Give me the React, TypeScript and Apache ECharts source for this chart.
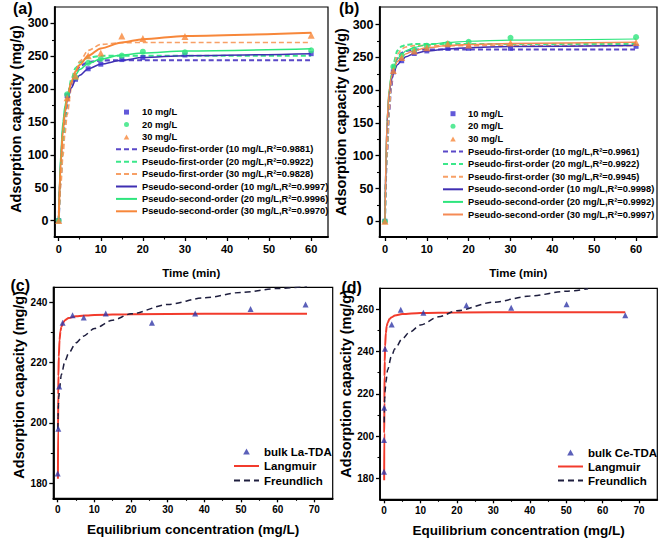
import React, { useEffect, useRef } from 'react';
import * as echarts from 'echarts';

// ---------- data ----------
// (a) kinetics, bulk La-TDA
const aTimes = [0, 2, 4, 7, 10, 15, 20, 30, 60];
const a10 = [0, 190, 215, 231, 238, 245, 248, 252, 254];
const a20 = [0, 192, 218, 240, 246, 251, 257, 256, 259];
const a30 = [0, 187, 220, 251, 255, 281, 277, 280, 282];
// (b) kinetics, bulk Ce-TDA
const bTimes = [0, 2, 4, 7, 10, 15, 20, 30, 60];
const b10 = [0, 228, 245, 256, 260, 264, 264, 264, 267];
const b20 = [0, 236, 253, 262, 268, 271, 274, 280, 281];
const b30 = [0, 230, 250, 260, 265, 271, 269, 272, 273];
// fitted curves
const fitT = [0, 0.5, 1, 1.5, 2, 3, 4, 5, 7, 10, 15, 20, 30, 60];
const aPFO10 = [0, 68, 117, 152, 177, 209, 226, 234.5, 241.4, 243.6, 244, 244, 244, 244];
const aPFO20 = [0, 70, 120, 156, 182.5, 215, 232, 241, 248, 250.6, 251, 251, 251, 251];
const aPFO30 = [0, 54, 98, 133, 161, 201, 226, 242.5, 259, 268, 270.7, 271, 271, 271];
const aPSO10 = [0, 97, 141, 166, 182, 202, 214, 221, 231, 238, 244, 248, 251, 254];
const aPSO20 = [0, 104, 150, 175, 191, 211, 222, 230, 239, 246, 252, 255, 258, 261.5];
const aPSO30 = [0, 88, 136, 165, 185, 211, 227, 237, 251, 262, 271, 276, 281, 286];
const bPFO10 = [0, 103, 166, 204, 227, 249, 257, 260, 262, 262, 262, 262, 262, 262];
const bPFO20 = [0, 114, 180, 219, 240, 260.5, 267, 269.4, 270.5, 270.5, 270.5, 270.5, 270.5, 270.5];
const bPFO30 = [0, 105, 169, 208, 232, 255, 263, 266, 268, 268, 268, 268, 268, 268];
const bPSO10 = [0, 152, 195, 215, 226.5, 239, 246, 251, 256, 260, 263, 265, 266.6, 268.3];
const bPSO20 = [0, 158, 202, 223, 235, 248, 255, 260, 265.4, 269.6, 273, 274.7, 276.4, 278.2];
const bPSO30 = [0, 155, 198.5, 219, 231, 243.6, 250.8, 255.5, 260.7, 264.8, 268, 269.8, 271.4, 273.3];

// (c) isotherm, bulk La-TDA
const cCe = [0, 0.16, 0.4, 1.35, 4.06, 7.1, 13.1, 25.7, 37.5, 52.6, 67.6];
const cQe = [183.2, 198.1, 212.1, 233.2, 235.7, 235.0, 236.3, 233.2, 236.3, 237.8, 239.3];
const cLangC = [0.063, 0.1, 0.15, 0.2, 0.3, 0.5, 0.75, 1, 1.5, 2, 3, 5, 10, 20, 40, 68];
const cLangQ = [181.5, 198, 209.4, 215.6, 222, 227.5, 230.4, 231.8, 233.3, 234.1, 234.8, 235.4, 235.85, 236.1, 236.2, 236.2];
const cFreC = [0.05, 0.1, 0.2, 0.3, 0.5, 1, 2, 3, 5, 7, 10, 15, 20, 30, 40, 50, 60, 68];
const cFreQ = [198, 202, 206.1, 208.3, 211.4, 216.1, 220.6, 223.2, 226.6, 228.8, 231.3, 234.1, 236.2, 239.3, 241.5, 243.3, 244.6, 245.3];

// (d) isotherm, bulk Ce-TDA
const dCe = [0, 0, 0.05, 0.27, 2.1, 4.6, 10.8, 22.6, 34.9, 50.1, 66.2];
const dQe = [183.1, 198.1, 213.4, 241.4, 252.9, 259.8, 258.4, 262.0, 260.8, 262.4, 257.2];
const dLangC = [0.045, 0.07, 0.1, 0.15, 0.2, 0.3, 0.5, 0.75, 1, 1.5, 2, 3, 5, 10, 20, 40, 66.2];
const dLangQ = [179, 201.3, 215.7, 228.3, 235.3, 242.6, 248.8, 252.1, 253.7, 255.4, 256.2, 257.1, 257.8, 258.3, 258.5, 258.7, 258.7];
const dFreC = [0.05, 0.1, 0.2, 0.3, 0.5, 1, 2, 3, 5, 7, 10, 15, 20, 30, 40, 50, 56];
const dFreQ = [206.4, 212, 217.6, 220.9, 225.4, 231.4, 237.6, 241.3, 246.1, 249.2, 252.6, 256.5, 259.4, 263.4, 266.3, 268.6, 269.8];

// tick values
const kinXTicks = [0, 10, 20, 30, 40, 50, 60];
const kinXMinor = [5, 15, 25, 35, 45, 55];
const kinYTicks = [0, 50, 100, 150, 200, 250, 300];
const kinYMinor = [25, 75, 125, 175, 225, 275];
const isoXTicks = [0, 10, 20, 30, 40, 50, 60, 70];
const isoXMinor = [5, 15, 25, 35, 45, 55, 65];
const cYTicks = [180, 200, 220, 240];
const cYMinor = [190, 210, 230];
const dYTicks = [180, 200, 220, 240, 260];
const dYMinor = [190, 210, 230, 250];

// legend names
const nA = ['10 mg/L', '20 mg/L', '30 mg/L',
  'Pseudo-first-order (10 mg/L,R²=0.9881)',
  'Pseudo-first-order (20 mg/L,R²=0.9922)',
  'Pseudo-first-order (30 mg/L,R²=0.9828)',
  'Pseudo-second-order (10 mg/L,R²=0.9997)',
  'Pseudo-second-order (20 mg/L,R²=0.9996)',
  'Pseudo-second-order (30 mg/L,R²=0.9970)'];
const nB = ['10 mg/L', '20 mg/L', '30 mg/L',
  'Pseudo-first-order (10 mg/L,R²=0.9961)',
  'Pseudo-first-order (20 mg/L,R²=0.9922)',
  'Pseudo-first-order (30 mg/L,R²=0.9945)',
  'Pseudo-second-order (10 mg/L,R²=0.9998)',
  'Pseudo-second-order (20 mg/L,R²=0.9992)',
  'Pseudo-second-order (30 mg/L,R²=0.9997)'];
const nC = ['bulk La-TDA', 'Langmuir', 'Freundlich'];
const nD = ['bulk Ce-TDA', 'Langmuir', 'Freundlich'];

const FONT = "'Liberation Sans', Arial, Helvetica, sans-serif";

const BLUE = '#3b30d0';
const GREEN = '#2ee57d';
const ORANGE = '#f7873a';
const BLUE_D = '#5a48c8';
const GREEN_D = '#3be88a';
const ORANGE_D = '#f7a066';
const BLUE_S = '#3f2fb2';
const TRI = '#3238a8';
const RED = '#f23b2c';
const NAVY = '#1e1e3e';

const ICON_RECT = 'path://M0,0L10,0L10,10L0,10Z';
const ICON_CIRCLE = 'path://M0,5A5,5,0,1,1,10,5A5,5,0,1,1,0,5Z';
const ICON_TRI = 'path://M5,0L10,9L0,9Z';

const zip = (xs: number[], ys: number[]) => xs.map((x, i) => [x, ys[i]]);

function xAxes(grid: number, min: number, max: number, major: number[], minor: number[], labelSize: number, name: string, nameGap: number, nameSize: number) {
  return [
    {
      type: 'value', gridIndex: grid, min, max, position: 'bottom',
      name, nameLocation: 'middle', nameGap,
      nameTextStyle: { fontFamily: FONT, fontWeight: 'bold', fontSize: nameSize, color: '#000' },
      axisLine: { show: true, onZero: false, lineStyle: { color: '#000', width: 1.8 } },
      axisTick: { show: true, inside: false, length: 4, customValues: major, lineStyle: { color: '#000', width: 1.3 } },
      axisLabel: { show: true, customValues: major, margin: 6, fontFamily: FONT, fontWeight: 'bold', fontSize: labelSize, color: '#000' },
      splitLine: { show: false },
    },
    {
      type: 'value', gridIndex: grid, min, max, position: 'bottom',
      axisLine: { show: false, onZero: false },
      axisTick: { show: true, inside: false, length: 2.5, customValues: minor, lineStyle: { color: '#000', width: 1.1 } },
      axisLabel: { show: false },
      splitLine: { show: false },
    },
  ];
}

function yAxes(grid: number, min: number, max: number, major: number[], minor: number[], labelSize: number, nameGap: number, shift: number) {
  return [
    {
      type: 'value', gridIndex: grid, min, max, position: 'left',
      name: 'Adsorption capacity (mg/g)', nameLocation: 'middle', nameGap,
      nameTextStyle: { fontFamily: FONT, fontWeight: 'bold', fontSize: 14.5, color: '#000', padding: [0, 0, 0, shift] },
      axisLine: { show: true, onZero: false, lineStyle: { color: '#000', width: 1.8 } },
      axisTick: { show: true, inside: false, length: 4, customValues: major, lineStyle: { color: '#000', width: 1.3 } },
      axisLabel: { show: true, customValues: major, margin: 6, fontFamily: FONT, fontWeight: 'bold', fontSize: labelSize, color: '#000' },
      splitLine: { show: false },
    },
    {
      type: 'value', gridIndex: grid, min, max, position: 'left',
      axisLine: { show: false, onZero: false },
      axisTick: { show: true, inside: false, length: 2.5, customValues: minor, lineStyle: { color: '#000', width: 1.1 } },
      axisLabel: { show: false },
      splitLine: { show: false },
    },
  ];
}

function scatter(name: string, ax: number, data: number[][], symbol: string, size: number, color: string) {
  return {
    type: 'scatter', name, xAxisIndex: ax, yAxisIndex: ax, data, symbol, symbolSize: size,
    itemStyle: { color }, z: 5,
  };
}

function fit(name: string, ax: number, data: number[][], color: string, width: number, dash: number[] | null) {
  return {
    type: 'line', name, xAxisIndex: ax, yAxisIndex: ax, data, symbol: 'none', showSymbol: false,
    smooth: 0.3, smoothMonotone: 'x',
    lineStyle: { color, width, type: dash ? dash : 'solid' },
    itemStyle: { color }, z: 3,
  };
}

const lineItem = (name: string) => ({ name, itemStyle: { opacity: 0 } });

export default function App() {
  const ref = useRef<HTMLDivElement>(null);
  useEffect(() => {
    document.body.style.margin = '0';
    const chart = echarts.init(ref.current!, undefined, { renderer: 'svg' });
    const grids = [
      { left: 54.5, top: 7, width: 273.5, height: 230 },
      { left: 379.5, top: 7, width: 277.5, height: 230 },
      { left: 53.3, top: 287.3, width: 279.4, height: 211 },
      { left: 380, top: 288.3, width: 277.3, height: 211 },
    ].map((g) => ({ ...g, show: true, borderColor: '#000', borderWidth: 1.2, backgroundColor: 'transparent' }));

    const xAxis = [
      ...xAxes(0, -1, 64, kinXTicks, kinXMinor, 11, 'Time (min)', 29.5, 11.5),
      ...xAxes(1, -1.3, 65, kinXTicks, kinXMinor, 11, 'Time (min)', 29.5, 11.5),
      ...xAxes(2, -1.2, 75, isoXTicks, isoXMinor, 10, 'Equilibrium concentration (mg/L)', 24.5, 13.5),
      ...xAxes(3, -1.1, 75, isoXTicks, isoXMinor, 10, 'Equilibrium concentration (mg/L)', 24.5, 13.5),
    ];
    const yAxis = [
      ...yAxes(0, -25, 325, kinYTicks, kinYMinor, 12.5, 22, 6),
      ...yAxes(1, -24, 327, kinYTicks, kinYMinor, 12.5, 20, 0),
      ...yAxes(2, 175, 245, cYTicks, cYMinor, 10, 22, 16),
      ...yAxes(3, 170, 270, dYTicks, dYMinor, 10, 24, 20),
    ];

    const series = [
      // (a)
      fit(nA[3], 0, zip(fitT, aPFO10), BLUE_D, 2.2, [5, 3]),
      fit(nA[4], 0, zip(fitT, aPFO20), GREEN_D, 2, [5, 3]),
      fit(nA[5], 0, zip(fitT, aPFO30), ORANGE_D, 1.6, [5, 3]),
      fit(nA[6], 0, zip(fitT, aPSO10), BLUE_S, 1.5, null),
      fit(nA[7], 0, zip(fitT, aPSO20), GREEN, 1.5, null),
      fit(nA[8], 0, zip(fitT, aPSO30), ORANGE, 2, null),
      scatter(nA[0], 0, zip(aTimes, a10), 'rect', 5, BLUE),
      scatter(nA[1], 0, zip(aTimes, a20), 'circle', 6, GREEN),
      scatter(nA[2], 0, zip(aTimes, a30), 'triangle', 7, ORANGE),
      // (b)
      fit(nB[3], 2, zip(fitT, bPFO10), BLUE_D, 2, [5, 3]),
      fit(nB[4], 2, zip(fitT, bPFO20), GREEN_D, 2, [5, 3]),
      fit(nB[5], 2, zip(fitT, bPFO30), ORANGE_D, 1.6, [5, 3]),
      fit(nB[6], 2, zip(fitT, bPSO10), BLUE_S, 1.5, null),
      fit(nB[7], 2, zip(fitT, bPSO20), GREEN, 1.2, null),
      fit(nB[8], 2, zip(fitT, bPSO30), '#f58a55', 1.4, null),
      scatter(nB[0], 2, zip(bTimes, b10), 'rect', 5, BLUE),
      scatter(nB[1], 2, zip(bTimes, b20), 'circle', 6, GREEN),
      scatter(nB[2], 2, zip(bTimes, b30), 'triangle', 7, ORANGE),
      // (c)
      fit('Langmuir', 4, zip(cLangC, cLangQ), RED, 2, null),
      fit('Freundlich', 4, zip(cFreC, cFreQ), NAVY, 1.5, [6, 4]),
      scatter(nC[0], 4, zip(cCe, cQe), 'triangle', 6, TRI),
      // (d)
      fit('Langmuir', 6, zip(dLangC, dLangQ), RED, 2, null),
      fit('Freundlich', 6, zip(dFreC, dFreQ), NAVY, 1.5, [6, 4]),
      scatter(nD[0], 6, zip(dCe, dQe), 'triangle', 6, TRI),
    ];

    const kinItems = (names: string[]) => [
      { name: names[0], icon: ICON_RECT },
      { name: names[1], icon: ICON_CIRCLE },
      { name: names[2], icon: ICON_TRI },
      ...names.slice(3).map(lineItem),
    ];
    const isoItems = (names: string[]) => [
      { name: names[0], icon: ICON_TRI },
      lineItem(names[1]),
      lineItem(names[2]),
    ];
    const kinLegendText = { fontFamily: FONT, fontWeight: 'bold', fontSize: 9.3, color: '#000' };
    const isoLegendText = { fontFamily: FONT, fontWeight: 'bold', fontSize: 11.5, color: '#000' };
    const legend = [
      { orient: 'vertical', left: 115, top: 107.6, itemWidth: 21, itemHeight: 5, itemGap: 3.4, padding: 0, symbolKeepAspect: true, data: kinItems(nA), textStyle: kinLegendText, selectedMode: false },
      { orient: 'vertical', left: 442, top: 109.2, itemWidth: 20, itemHeight: 5, itemGap: 3.6, padding: 0, symbolKeepAspect: true, data: kinItems(nB), textStyle: kinLegendText, selectedMode: false },
      { orient: 'vertical', left: 233, top: 445.5, itemWidth: 25, itemHeight: 6, itemGap: 2.5, padding: 0, symbolKeepAspect: true, data: isoItems(nC), textStyle: isoLegendText, selectedMode: false },
      { orient: 'vertical', left: 557, top: 446.5, itemWidth: 25, itemHeight: 6, itemGap: 2, padding: 0, symbolKeepAspect: true, data: isoItems(nD), textStyle: isoLegendText, selectedMode: false },
    ];

    const label = (text: string, x: number, y: number) => ({
      type: 'text', left: x, top: y,
      style: { text, fontFamily: FONT, fontWeight: 'bold', fontSize: 16, fill: '#000' },
    });

    chart.setOption({
      animation: false,
      backgroundColor: '#fff',
      grid: grids,
      xAxis,
      yAxis,
      series,
      legend,
      graphic: [label('(a)', 13, 0), label('(b)', 339, 0), label('(c)', 10.5, 277), label('(d)', 341.5, 279)],
    });
    return () => chart.dispose();
  }, []);
  return <div ref={ref} style={{ width: 661, height: 541 }} />;
}
